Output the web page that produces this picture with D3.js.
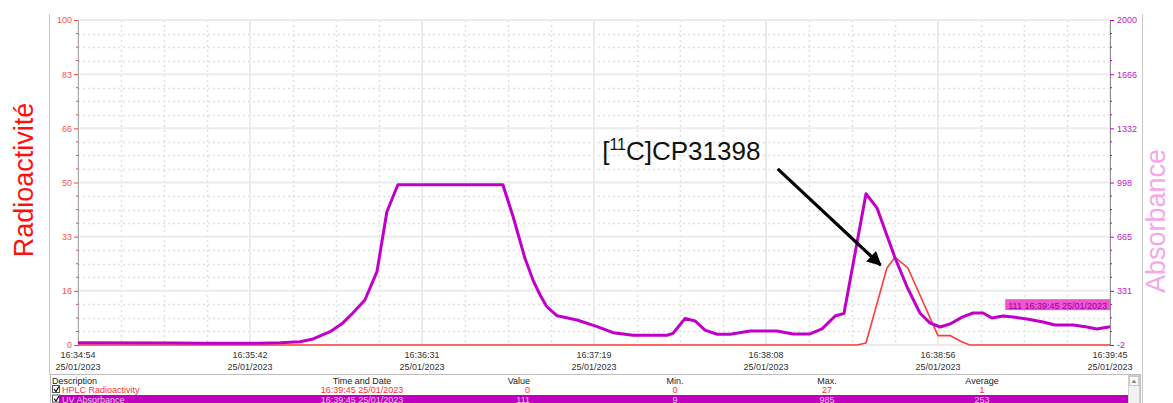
<!DOCTYPE html>
<html><head><meta charset="utf-8">
<script src="https://cdn.jsdelivr.net/npm/d3@7"></script>
<style>
html,body{margin:0;padding:0;background:#fff;overflow:hidden;}
svg{display:block;font-family:"Liberation Sans",Arial,sans-serif;}
</style></head>
<body>
<svg id="chart" width="1173" height="403"></svg>
<script>
// ---------- DATA ----------
const startClock = [16, 34, 54];           // 25/01/2023 16:34:54
const xTickLabels = ["16:34:54","16:35:42","16:36:31","16:37:19","16:38:08","16:38:56","16:39:45"];
const xTickSeconds = [0, 48.5, 97, 145.5, 194, 242.5, 291];
const xDateLabel = "25/01/2023";
const leftTickLabels = ["0","16","33","50","66","83","100"];
const rightTickLabels = ["-2","331","665","998","1332","1666","2000"];

// UV absorbance (seconds from start, value)
const absT = [0,27,34,51,57,62.6,66.3,71.1,74.7,77.5,80.9,84.3,87.1,90.2,119.8,122.7,126,128.3,130.3,132.2,135.1,140.7,146.4,150.9,156.5,166.1,167.8,171.2,174,176.8,180.2,183.9,189.5,197.1,201.6,206.4,209.8,213.5,216,222.2,225.3,230.4,233.8,237.4,240.2,243.1,245.9,249.3,252.4,255.2,257.7,260.8,263.7,267.6,272.1,275.5,280.6,284.5,287.3,291];
const absV = [12,11,9,9,12,18,35,80,134,195,275,450,819,985,985,788,534,398,306,234,178,152,111,74,58,58,70,162,146,90,64,64,84,84,66,66,97,177,193,930,842,534,355,195,134,109,127,170,195,195,164,177,170,158,140,121,121,109,97,111];

// HPLC radioactivity
const radT = [0,219.7,222.2,228.1,230.4,234,242.5,245.9,249.3,251.5,291];
const radV = [0,0,0.6,23.7,27,23.7,2.9,2.9,0.9,0,0];

// annotation
const annoLabel = {pre:"[", sup:"11", post:"C]CP31398"};
const annoTextAt = {t:147.8, v:57};
const annoFrom = {t:197.3, v:54.2};
const annoTo = {t:226.3, v:24.6};

// legend table
const tableHeaders = ["Description","Time and Date","Value","Min.","Max.","Average"];
const tableRows = [
  {name:"HPLC Radioactivity", time:"16:39:45 25/01/2023", value:"0", min:"0", max:"27", avg:"1"},
  {name:"UV Absorbance", time:"16:39:45 25/01/2023", value:"111", min:"9", max:"985", avg:"253"}
];
const lastValueLabel = "111 16:39:45 25/01/2023";

// ---------- LAYOUT ----------
const svg = d3.select("#chart");
const L = 78, R = 1110, T = 20, B = 345;
const RED = "#ff3b3b", PURPLE = "#c000c8";

const t0 = new Date(2023,0,25,startClock[0],startClock[1],startClock[2]);
const toDate = s => new Date(t0.getTime() + s*1000);
const x = d3.scaleTime().domain([toDate(0), toDate(291)]).range([L, R]);
const yL = d3.scaleLinear().domain([0,100]).range([B, T]);
const yR = d3.scaleLinear().domain([-2,2000]).range([B, T]);

const leftTicks = d3.range(7).map(i => 100*i/6);
const rightTicks = d3.range(7).map(i => -2 + 2002*i/6);
const leftMinor = d3.range(25).map(i => 100*i/24).filter((d,i)=> i%4 !== 0);
const rightMinor = d3.range(25).map(i => -2 + 2002*i/24).filter((d,i)=> i%4 !== 0);
const xMinor = [];
for (let i=0;i<6;i++) for (let k=1;k<4;k++) xMinor.push(xTickSeconds[i] + (xTickSeconds[i+1]-xTickSeconds[i])*k/4);

// panel borders
svg.append("line").attr("x1",49.5).attr("x2",49.5).attr("y1",14).attr("y2",375).attr("stroke","#c8c8c8");
svg.append("line").attr("x1",1142.5).attr("x2",1142.5).attr("y1",14).attr("y2",403).attr("stroke","#c8c8c8");

// grid
const g = svg.append("g");
g.selectAll(".hmin").data(leftMinor).join("line")
  .attr("x1",L).attr("x2",R).attr("y1",d=>Math.round(yL(d))+0.5).attr("y2",d=>Math.round(yL(d))+0.5)
  .attr("stroke","#e0e0e0").attr("stroke-width",1.5).attr("stroke-dasharray","2,3");
g.selectAll(".vmin").data(xMinor).join("line")
  .attr("y1",T).attr("y2",B).attr("x1",d=>Math.round(x(toDate(d)))+0.5).attr("x2",d=>Math.round(x(toDate(d)))+0.5)
  .attr("stroke","#e0e0e0").attr("stroke-width",1.5).attr("stroke-dasharray","2,3");
g.selectAll(".hmaj").data(leftTicks).join("line")
  .attr("x1",L).attr("x2",R).attr("y1",d=>yL(d)).attr("y2",d=>yL(d))
  .attr("stroke","#ececec").attr("stroke-width",2);
g.selectAll(".vmaj").data(xTickSeconds).join("line")
  .attr("y1",T).attr("y2",B).attr("x1",d=>x(toDate(d))).attr("x2",d=>x(toDate(d)))
  .attr("stroke","#ececec").attr("stroke-width",2);

// axes
const axL = svg.append("g").attr("transform",`translate(${L},0)`)
  .call(d3.axisLeft(yL).tickValues(leftTicks).tickFormat((d,i)=>leftTickLabels[i]).tickSize(4).tickPadding(2));
axL.select(".domain").attr("stroke","#a8a8a8");
axL.selectAll(".tick line").attr("stroke",RED);
axL.selectAll("text").attr("fill","#ff5050").style("font-size","9px").style("font-family","Liberation Sans, Arial");
svg.append("g").selectAll("line").data(leftMinor).join("line")
  .attr("x1",L-2).attr("x2",L).attr("y1",d=>yL(d)).attr("y2",d=>yL(d)).attr("stroke",RED);

const axR = svg.append("g").attr("transform",`translate(${R},0)`)
  .call(d3.axisRight(yR).tickValues(rightTicks).tickFormat((d,i)=>rightTickLabels[i]).tickSize(4).tickPadding(3));
axR.select(".domain").attr("stroke","#909090");
axR.selectAll(".tick line").attr("stroke",PURPLE);
axR.selectAll("text").attr("fill","#c020c8").style("font-size","9px").style("font-family","Liberation Sans, Arial");
svg.append("g").selectAll("line").data(rightMinor).join("line")
  .attr("x1",R).attr("x2",R+2).attr("y1",d=>yR(d)).attr("y2",d=>yR(d)).attr("stroke",PURPLE);

// x axis labels (two lines)
const xl = svg.append("g").selectAll("g").data(xTickSeconds).join("g")
  .attr("transform",d=>`translate(${x(toDate(d))},0)`);
xl.append("text").attr("y",358).attr("text-anchor","middle").attr("font-size",9).attr("fill","#333")
  .text((d,i)=>xTickLabels[i]);
xl.append("text").attr("y",370).attr("text-anchor","middle").attr("font-size",9).attr("fill","#333")
  .text(xDateLabel);

// series
const radData = radT.map((t,i)=>({t, v:radV[i]}));
const absData = absT.map((t,i)=>({t, v:absV[i]}));
svg.append("path").datum(radData)
  .attr("d", d3.line().x(d=>x(toDate(d.t))).y(d=>yL(d.v)))
  .attr("fill","none").attr("stroke",RED).attr("stroke-width",1.6).attr("stroke-linejoin","round");
svg.append("path").datum(absData)
  .attr("d", d3.line().x(d=>x(toDate(d.t))).y(d=>yR(d.v)))
  .attr("fill","none").attr("stroke",PURPLE).attr("stroke-width",3).attr("stroke-linejoin","round");

// last value label
const lastV = absV[absV.length-1];
const lbl = svg.append("g");
const lblText = lbl.append("text").attr("font-size",9).attr("fill","#9a00a8")
  .attr("text-anchor","end").attr("x",R-3).attr("y",yR(lastV)-18).text(lastValueLabel);
const bb = lblText.node().getBBox();
lbl.insert("rect","text").attr("x",bb.x-3).attr("y",yR(lastV)-27.5).attr("width",R-(bb.x-3)).attr("height",11)
  .attr("fill","#f055cc");

// axis titles
svg.append("text").attr("transform",`translate(33,180) rotate(-90)`).attr("text-anchor","middle")
  .attr("font-size",27).attr("fill","#ff1010").text("Radioactivité");
svg.append("text").attr("transform",`translate(1165,221) rotate(-90)`).attr("text-anchor","middle")
  .attr("font-size",27).attr("fill","#f4a8ea").text("Absorbance");

// annotation
const defs = svg.append("defs");
defs.append("marker").attr("id","ah").attr("viewBox","0 0 10 10").attr("refX",9).attr("refY",5)
  .attr("markerWidth",5).attr("markerHeight",4.5).attr("orient","auto").attr("markerUnits","strokeWidth")
  .append("path").attr("d","M0,0 L10,5 L0,10 z").attr("fill","#000");
svg.append("line")
  .attr("x1",x(toDate(annoFrom.t))).attr("y1",yL(annoFrom.v))
  .attr("x2",x(toDate(annoTo.t))).attr("y2",yL(annoTo.v))
  .attr("stroke","#000").attr("stroke-width",3.2).attr("marker-end","url(#ah)");
const at = svg.append("text").attr("x",x(toDate(annoTextAt.t))).attr("y",yL(annoTextAt.v))
  .attr("font-size",26).attr("fill","#111");
at.append("tspan").text(annoLabel.pre);
at.append("tspan").attr("font-size",16).attr("dy",-10).text(annoLabel.sup);
at.append("tspan").attr("dy",10).text(annoLabel.post);

// table
const tb = svg.append("g").attr("font-size",9);
tb.append("rect").attr("x",50.5).attr("y",374.5).attr("width",1090).attr("height",40).attr("fill","#fff").attr("stroke","#bdbdbd");
const colX = [52, 362, 530, 675, 827, 982];
const colAnchor = ["start","middle","end","middle","middle","middle"];
tb.selectAll(".hdr").data(tableHeaders).join("text")
  .attr("x",(d,i)=>colX[i]).attr("y",384).attr("text-anchor",(d,i)=>colAnchor[i]).attr("fill","#222").text(d=>d);
// row 2 highlight
tb.append("rect").attr("x",59).attr("y",395).attr("width",1069).attr("height",10).attr("fill","#bf00bf");
tableRows.forEach((r,ri)=>{
  const y = 393 + ri*9.5;
  const col = ri===0 ? "#ff3030" : "#e8c8ee";
  tb.append("rect").attr("x",52.5).attr("y",y-7.5).attr("width",7).attr("height",7).attr("fill","#fff").attr("stroke","#555");
  tb.append("path").attr("d",`M${54},${y-4} l2,2.5 l3,-5`).attr("fill","none").attr("stroke","#000").attr("stroke-width",1.2);
  const vals = [r.name, r.time, r.value, r.min, r.max, r.avg];
  vals.forEach((v,i)=>{
    tb.append("text").attr("x", i===0 ? 62 : colX[i]).attr("y",y).attr("text-anchor",colAnchor[i]).attr("fill",col).text(v);
  });
});
// scrollbar
tb.append("rect").attr("x",1128.5).attr("y",375.5).attr("width",11).attr("height",30).attr("fill","#f2f2f2").attr("stroke","#d0d0d0");
tb.append("rect").attr("x",1129.5).attr("y",376.5).attr("width",9).attr("height",9).attr("fill","#fafafa").attr("stroke","#c8c8c8");
tb.append("path").attr("d","M1131.5,383 L1134,379.5 L1136.5,383 z").attr("fill","#888");
</script>
</body></html>
